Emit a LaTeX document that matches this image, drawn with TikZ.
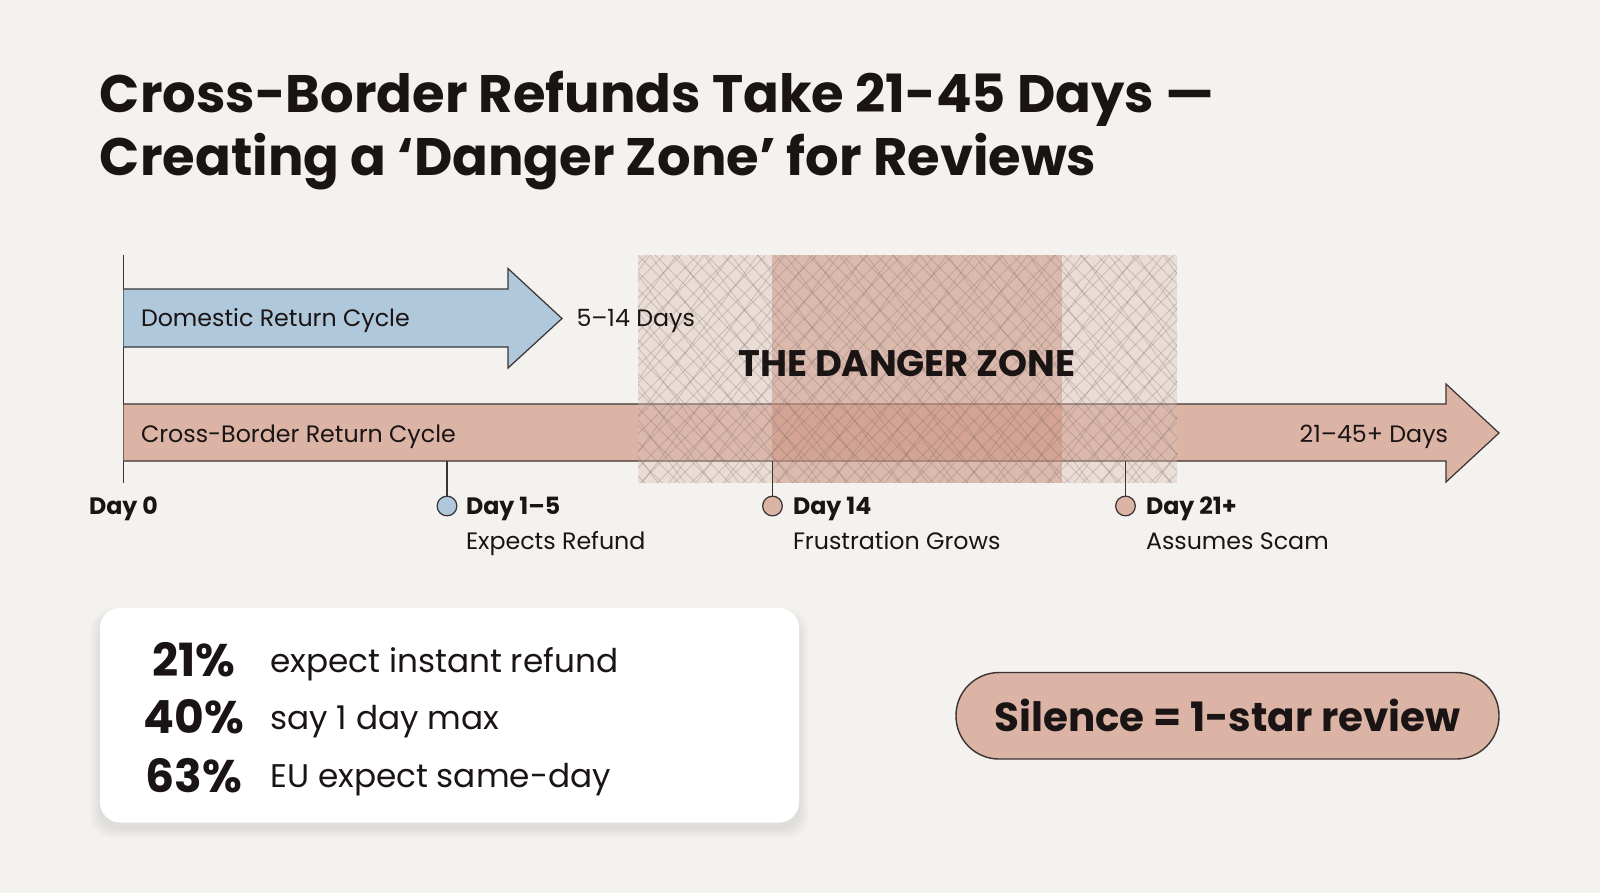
\documentclass[tikz,border=0pt]{standalone}
\usepackage{fontspec}
\setmainfont{Poppins}
\newcommand{\myfs}[1]{\fontsize{#1}{#1}\selectfont}
\definecolor{bgc}{HTML}{F4F2EE}
\definecolor{bluec}{HTML}{AFC8DC}
\definecolor{pinkc}{HTML}{DBB4A6}
\definecolor{linec}{HTML}{3C3434}
\definecolor{txtc}{HTML}{1A1414}
\definecolor{zoneout}{RGB}{220,190,180}
\definecolor{zonein}{RGB}{200,132,112}
\definecolor{hatchc}{RGB}{110,100,100}
\begin{document}
\begin{tikzpicture}[x=0.01cm,y=-0.01cm,
  txt/.style={inner sep=0pt,outer sep=0pt,text=txtc},
  lbl/.style={txt,font=\myfs{6.75pt}},
  lblb/.style={txt,font=\myfs{6.75pt}\bfseries},
  outl/.style={draw=linec,line width=0.35pt},
  tick/.style={draw=linec,line width=0.45pt},
  dot/.style={circle,draw=linec,line width=0.35pt,minimum size=5.6pt,inner sep=0pt},
  hatch/.style={draw=hatchc,line width=0.25pt,opacity=0.25}]
\useasboundingbox (0,0) rectangle (1600,893);
\fill[bgc] (0,0) rectangle (1600,893);

% Title
\node[txt,anchor=base west,font=\myfs{15pt}\bfseries] (t1) at (100,112) {Cross-Border Refunds Take 21-45 Days —};
\node[txt,anchor=base west,font=\myfs{15pt}\bfseries] (t2) at (100,175.5) {Creating a ‘Danger Zone’ for Reviews};

% Day 0 axis line
\coordinate (d0top) at (123.5,255);
\coordinate (d0bot) at (123.5,483);
\draw[tick] (d0top) -- (d0bot);

% Domestic arrow
\path[fill=bluec,outl] (123.5,289) -- (508,289) -- (508,268.5) -- (562,318.5) -- (508,368) -- (508,347) -- (123.5,347);
\node[lbl,anchor=base west] (dom) at (141,326.5) {Domestic Return Cycle};

% Cross-border arrow
\path[fill=pinkc,outl] (123.5,404) -- (1446,404) -- (1446,384) -- (1499,433) -- (1446,482) -- (1446,461) -- (123.5,461);

% Danger zone
\fill[zoneout,opacity=0.4] (638,255) rectangle (1177,483);
\fill[zonein,opacity=0.4] (772,255) rectangle (1062,483);
\begin{scope}
\clip (638,255) rectangle (1177,483);
\foreach \i in {400,417,...,1190} {\draw[hatch] (\i,255) -- ++(228,228);}
\foreach \i in {630,647,...,1420} {\draw[hatch] (\i,255) -- ++(-228,228);}
\foreach \i in {380,407,...,1190} {\draw[hatch] (\i,255) -- ++(170,228);}
\foreach \i in {650,677,...,1420} {\draw[hatch] (\i,255) -- ++(-170,228);}
\end{scope}
\node[txt,anchor=base,font=\myfs{10.5pt}\bfseries] (dz) at (907,376) {THE DANGER ZONE};

% Labels on top of the zone
\node[lbl,anchor=base west] (domd) at (576.5,326.5) {5–14 Days};
\node[lbl,anchor=base west] (cb) at (141,442) {Cross-Border Return Cycle};
\node[lbl,anchor=base east] (cbd) at (1448,442) {21–45+ Days};

% Ticks and milestones
\node[dot,fill=bluec] (c1) at (447,506) {};
\node[dot,fill=pinkc] (c2) at (772.5,506) {};
\node[dot,fill=pinkc] (c3) at (1125.5,506) {};
\coordinate (a1) at (447,461);
\coordinate (a2) at (772.5,461);
\coordinate (a3) at (1125.5,461);
\draw[tick] (a1) -- (c1.north);
\draw[tick] (a2) -- (c2.north);
\draw[tick] (a3) -- (c3.north);

\node[lblb,anchor=base] (l0) at (123.5,514.5) {Day 0};
\node[lblb,anchor=base west] (l1) at (466,514.5) {Day 1–5};
\node[lbl,anchor=base west] (l1b) at (466,549.5) {Expects Refund};
\node[lblb,anchor=base west] (l2) at (793,514.5) {Day 14};
\node[lbl,anchor=base west] (l2b) at (793,549.5) {Frustration Grows};
\node[lblb,anchor=base west] (l3) at (1146,514.5) {Day 21+};
\node[lbl,anchor=base west] (l3b) at (1146,549.5) {Assumes Scam};

% Stats box with soft shadow
\foreach \k in {1,...,10} {
  \fill[black,opacity=0.009,rounded corners=6pt] (100-\k,612-\k+6) rectangle (799+\k,822.5+\k+6);
}
\node[fill=white,rounded corners=5.7pt,minimum width=699*0.01cm,minimum height=214.5*0.01cm,inner sep=0pt] (box) at (449.5,715.25) {};
\node[txt,anchor=base,font=\myfs{13pt}\bfseries] (p1) at (194,676.5) {21\%};
\node[txt,anchor=base,font=\myfs{13pt}\bfseries] (p2) at (194,733.5) {40\%};
\node[txt,anchor=base,font=\myfs{13pt}\bfseries] (p3) at (194,792) {63\%};
\node[txt,anchor=base west,font=\myfs{9.3pt}] (s1) at (270.5,672) {expect instant refund};
\node[txt,anchor=base west,font=\myfs{9.3pt}] (s2) at (270.5,729) {say 1 day max};
\node[txt,anchor=base west,font=\myfs{9.3pt}] (s3) at (270.5,787.5) {EU expect same-day};

% Pill
\node[fill=pinkc,draw=linec,line width=0.4pt,rounded corners=43*0.01cm,minimum width=543*0.01cm,minimum height=86.5*0.01cm,inner sep=0pt] (pill) at (1227.5,715.75) {};
\node[txt,anchor=base,font=\myfs{11.5pt}\bfseries] (pt) at (1227.5,731.5) {Silence = 1-star review};
\end{tikzpicture}
\end{document}
